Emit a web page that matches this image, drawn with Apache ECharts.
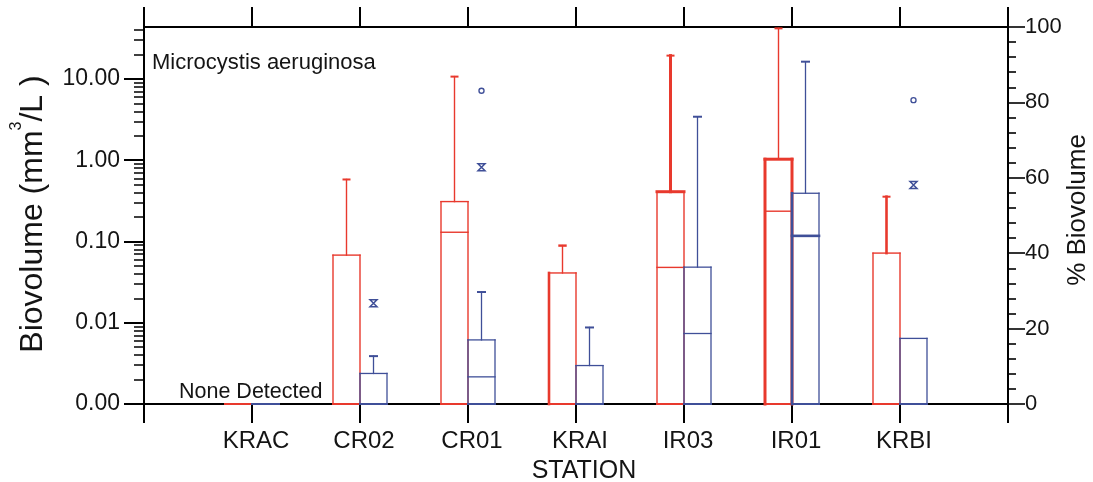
<!DOCTYPE html>
<html>
<head>
<meta charset="utf-8">
<script src="https://cdn.jsdelivr.net/npm/echarts@6/dist/echarts.min.js"></script>
<style>
  html, body { margin: 0; padding: 0; background: #fff; }
  #chart { width: 1093px; height: 482px; }
</style>
</head>
<body>
<div id="chart"></div>
<script>
// Stations along the river, upstream to downstream
const stations = ['KRAC', 'CR02', 'CR01', 'KRAI', 'IR03', 'IR01', 'KRBI'];

// Microcystis aeruginosa biovolume (mm3/L): [station, low, q1, median, q3, high]
// 0.001 is the "none detected" floor of the log axis (labelled 0.00)
const biovolumeBoxes = [
  ['KRAC', 0.001, 0.001, 0.001, 0.001, 0.001],
  ['CR02', 0.001, 0.001, 0.001, 0.068, 0.58],
  ['CR01', 0.001, 0.001, 0.13, 0.31, 10.7],
  ['KRAI', 0.001, 0.001, 0.001, 0.041, 0.089],
  ['IR03', 0.001, 0.001, 0.048, 0.41, 19.4],
  ['IR01', 0.001, 0.001, 0.236, 1.03, 42],
  ['KRBI', 0.001, 0.001, 0.001, 0.072, 0.356]
];

// Share of total phytoplankton biovolume (%): [station, low, q1, median, q3, high]
const percentBoxes = [
  ['KRAC', 0, 0, 0, 0, 0],
  ['CR02', 0, 0, 0, 8.1, 12.7],
  ['CR01', 0, 0, 7.2, 17.0, 29.7],
  ['KRAI', 0, 0, 0, 10.2, 20.3],
  ['IR03', 0, 0, 18.7, 36.3, 76.2],
  ['IR01', 0, 0, 44.6, 55.9, 90.8],
  ['KRBI', 0, 0, 0, 17.4, 17.4]
];

// Percent outliers: circles and asterisks
const circleOutliers = [['CR01', 83.1], ['KRBI', 80.6]];
const starOutliers = [['CR02', 26.7], ['CR01', 62.8], ['KRBI', 58.1]];

// Axis ticks
const logDecadeTicks = [0.001, 0.01, 0.1, 1, 10];
const percentTickStep = 20;
const bioRange = [0.001, 43.65];
const percentRange = [0, 100];

// Minor ticks of the log axis: 2..9 within each decade
const logMinorTicks = [];
for (let e = -3; e <= 1; e++) {
  for (let m = 2; m <= 9; m++) {
    const v = +(m * Math.pow(10, e)).toPrecision(6);
    if (v < bioRange[1]) logMinorTicks.push(v);
  }
}

const RED = '#e8392d';
const BLUE = '#3f4f98';
const FONT = '"Liberation Sans", Arial, Helvetica, sans-serif';
const TEXT = '#141414';
const BOX_W = 27;

// heavier strokes on a few boxes
const heavyRed = {
  KRAI: { left: 2.6, cap: 2.4 },
  IR03: { whisker: 3, top: 3 },
  IR01: { left: 3, top: 3, right: 3 },
  KRBI: { whisker: 2.6 }
};
const heavyBlue = {
  IR01: { left: 2.6, median: 2.6 }
};

function boxRenderer(side, color, heavy, capW, baseW) {
  return function (params, api) {
    const idx = api.value(0);
    const name = stations[idx - 1];
    const h = heavy[name] || {};
    const pLow = api.coord([idx, api.value(1)]);
    const pQ1 = api.coord([idx, api.value(2)]);
    const pMed = api.coord([idx, api.value(3)]);
    const pQ3 = api.coord([idx, api.value(4)]);
    const pHigh = api.coord([idx, api.value(5)]);
    const cx = pLow[0];
    const x0 = side < 0 ? cx - BOX_W : cx;
    const x1 = x0 + BOX_W;
    const mid = x0 + BOX_W / 2;
    const line = (xa, ya, xb, yb, w) => ({
      type: 'line',
      shape: { x1: xa, y1: ya, x2: xb, y2: yb },
      style: { stroke: color, lineWidth: w || baseW, lineCap: 'square' }
    });
    const kids = [];
    if (pQ3[1] - pHigh[1] > 0.5) {
      kids.push(line(mid, pQ3[1], mid, pHigh[1], h.whisker));
      kids.push(line(mid - capW / 2, pHigh[1], mid + capW / 2, pHigh[1], h.cap || 2));
    }
    if (pQ1[1] - pLow[1] > 0.5) {
      kids.push(line(mid, pQ1[1], mid, pLow[1], h.whisker));
    }
    kids.push(line(x0, pQ1[1], x0, pQ3[1], h.left));
    kids.push(line(x1, pQ1[1], x1, pQ3[1], h.right));
    kids.push(line(x0, pQ3[1], x1, pQ3[1], h.top));
    kids.push(line(x0, pQ1[1], x1, pQ1[1], 2));
    if (Math.abs(pMed[1] - pQ1[1]) > 0.5) {
      kids.push(line(x0, pMed[1], x1, pMed[1], h.median));
    }
    return { type: 'group', children: kids };
  };
}

const categories = [''].concat(stations, ['']);

const chart = echarts.init(document.getElementById('chart'), null, { renderer: 'canvas' });

const axisLineStyle = { color: '#000', width: 2 };

chart.setOption({
  animation: false,
  backgroundColor: '#fff',
  grid: { left: 144, right: 85, top: 27, bottom: 78, outerBoundsMode: 'none' },
  xAxis: [
    {
      type: 'category',
      data: categories,
      boundaryGap: false,
      position: 'bottom',
      axisLine: { lineStyle: axisLineStyle },
      axisTick: { length: 19, interval: 0, lineStyle: { color: '#000', width: 2 } },
      axisLabel: {
        interval: 0, margin: 25, fontSize: 24, fontFamily: FONT, color: TEXT,
        padding: [0, 0, 0, 8]
      },
      splitLine: { show: false }
    },
    {
      type: 'category',
      data: categories,
      boundaryGap: false,
      position: 'top',
      axisLine: { lineStyle: axisLineStyle },
      axisTick: { length: 20, interval: 0, lineStyle: { color: '#000', width: 2 } },
      axisLabel: { show: false },
      splitLine: { show: false }
    }
  ],
  yAxis: [
    {
      type: 'log',
      min: bioRange[0],
      max: bioRange[1],
      position: 'left',
      axisLine: { show: true, lineStyle: axisLineStyle },
      axisTick: { show: true, length: 20, customValues: logDecadeTicks, lineStyle: { color: '#000', width: 2 } },
      axisLabel: {
        customValues: logDecadeTicks,
        formatter: v => v.toFixed(2),
        margin: 24, fontSize: 23, fontFamily: FONT, color: TEXT
      },
      splitLine: { show: false },
      minorTick: { show: false }
    },
    {
      type: 'log',
      min: bioRange[0],
      max: bioRange[1],
      position: 'left',
      axisLine: { show: false },
      axisTick: { show: true, length: 10, customValues: logMinorTicks, lineStyle: { color: '#000', width: 1.5 } },
      axisLabel: { show: false },
      splitLine: { show: false }
    },
    {
      type: 'value',
      min: percentRange[0],
      max: percentRange[1],
      interval: percentTickStep,
      position: 'right',
      axisLine: { show: true, lineStyle: axisLineStyle },
      axisTick: { show: true, length: 17, lineStyle: { color: '#000', width: 1.6 } },
      minorTick: { show: true, splitNumber: 5, length: 8, lineStyle: { color: '#000', width: 1.6 } },
      axisLabel: { margin: 17, fontSize: 22, fontFamily: FONT, color: TEXT },
      splitLine: { show: false },
      minorSplitLine: { show: false }
    }
  ],
  series: [
    {
      type: 'custom',
      name: 'Biovolume',
      xAxisIndex: 0,
      yAxisIndex: 0,
      encode: { x: 0, y: [1, 2, 3, 4, 5] },
      data: biovolumeBoxes,
      renderItem: boxRenderer(-1, RED, heavyRed, 6, 1.4),
      clip: false,
      z: 5
    },
    {
      type: 'custom',
      name: '% Biovolume',
      xAxisIndex: 0,
      yAxisIndex: 2,
      encode: { x: 0, y: [1, 2, 3, 4, 5] },
      data: percentBoxes,
      renderItem: boxRenderer(1, BLUE, heavyBlue, 7, 1.3),
      clip: false,
      z: 6
    },
    {
      type: 'scatter',
      name: 'Outlier',
      xAxisIndex: 0,
      yAxisIndex: 2,
      data: circleOutliers,
      symbol: 'circle',
      symbolSize: 5,
      symbolOffset: [BOX_W / 2, 0],
      itemStyle: { color: '#fff', borderColor: BLUE, borderWidth: 1.4, opacity: 1 },
      z: 7
    },
    {
      type: 'scatter',
      name: 'Extreme',
      xAxisIndex: 0,
      yAxisIndex: 2,
      data: starOutliers,
      symbol: 'path://M0,0 L10,0 L0,10 L10,10 Z',
      symbolSize: [7, 7],
      symbolOffset: [BOX_W / 2, 0],
      itemStyle: { color: 'rgba(0,0,0,0)', borderColor: BLUE, borderWidth: 1.5, opacity: 1 },
      z: 7
    }
  ],
  graphic: [
    {
      type: 'text', x: 152, y: 63,
      style: { text: 'Microcystis aeruginosa', font: '22px ' + FONT, fill: TEXT, verticalAlign: 'middle' }
    },
    {
      type: 'text', x: 179, y: 392,
      style: { text: 'None Detected', font: '21.5px ' + FONT, fill: TEXT, verticalAlign: 'middle' }
    },
    {
      type: 'text', x: 584, y: 471,
      style: { text: 'STATION', font: '25px ' + FONT, fill: TEXT, align: 'center', verticalAlign: 'middle' }
    },
    {
      type: 'text', x: 29, y: 214, rotation: Math.PI / 2,
      style: {
        text: '{a|Biovolume (mm}{s|3}{a|/L )}',
        fill: TEXT, align: 'center', verticalAlign: 'middle',
        rich: {
          a: { fontSize: 32, fontFamily: FONT, fill: TEXT, verticalAlign: 'bottom' },
          s: { fontSize: 16, fontFamily: FONT, fill: TEXT, verticalAlign: 'bottom', padding: [0, 0, 24, 0] }
        }
      }
    },
    {
      type: 'text', x: 1078, y: 210, rotation: Math.PI / 2,
      style: { text: '% Biovolume', font: '26px ' + FONT, fill: TEXT, align: 'center', verticalAlign: 'middle' }
    }
  ]
});
</script>
</body>
</html>
